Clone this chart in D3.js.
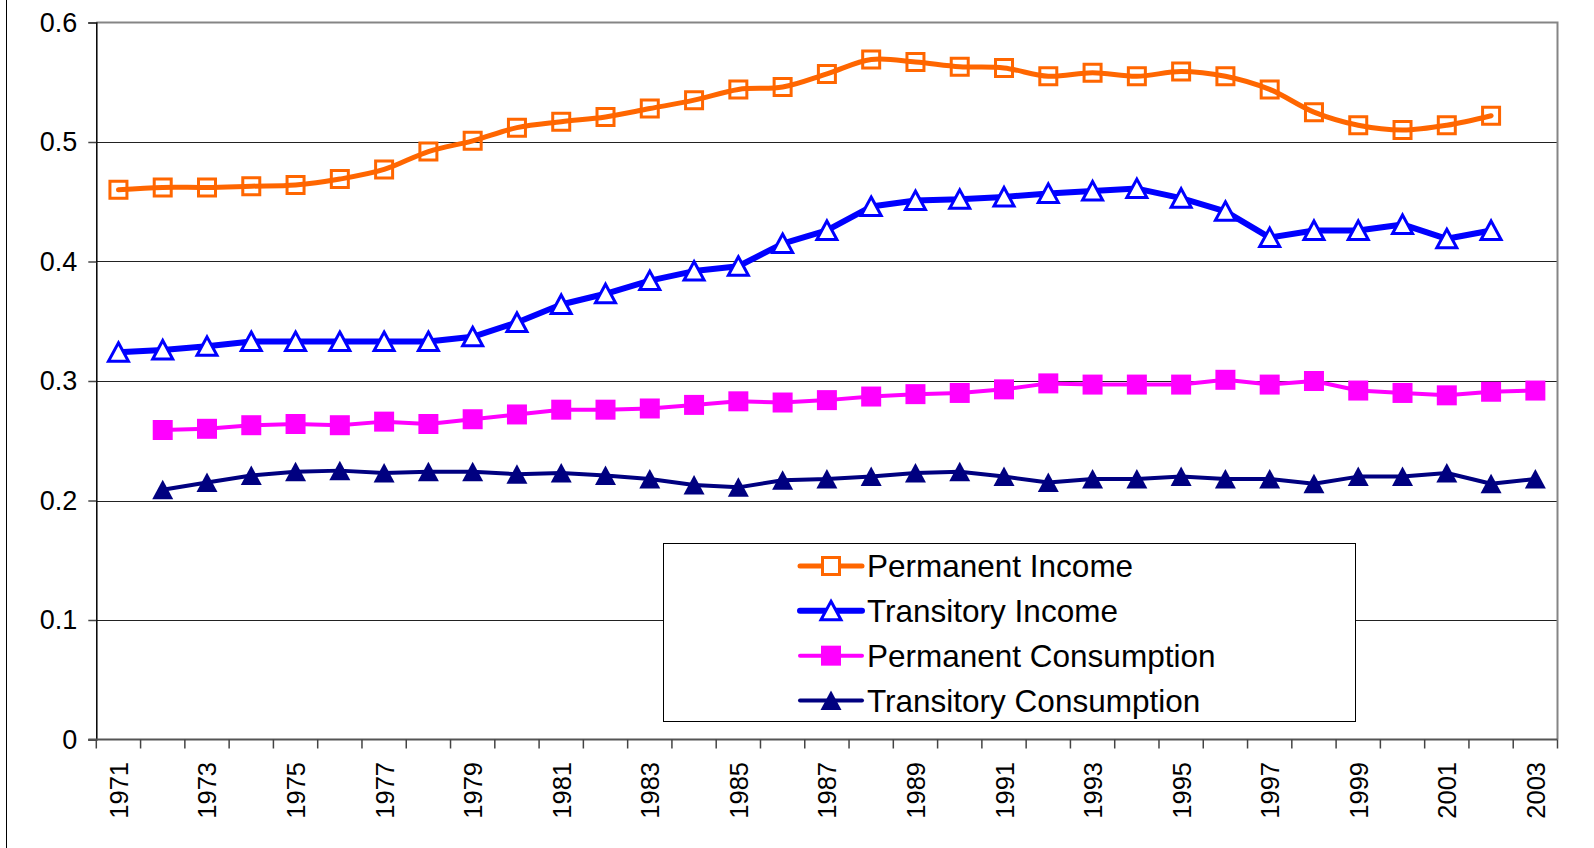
<html>
<head>
<meta charset="utf-8">
<script src="https://d3js.org/d3.v7.min.js"></script>
<style>
  body { margin: 0; background: #fff; font-family: "Liberation Sans", Arial, sans-serif; }
  svg { display: block; }
</style>
</head>
<body>
<script>
// years on the category axis
var years = d3.range(1971, 2004)
var yTicks = [0, 0.1, 0.2, 0.3, 0.4, 0.5, 0.6]

// Permanent Income, 1971-2002
var permIncome = [0.460, 0.462, 0.462, 0.463, 0.464, 0.469, 0.477, 0.492, 0.501, 0.512,
  0.517, 0.521, 0.528, 0.535, 0.544, 0.546, 0.557, 0.569, 0.567, 0.563,
  0.562, 0.555, 0.558, 0.555, 0.559, 0.555, 0.544, 0.525, 0.514, 0.510,
  0.514, 0.522]
// Transitory Income, 1971-2002
var transIncome = [0.324, 0.326, 0.329, 0.333, 0.333, 0.333, 0.333, 0.333, 0.337, 0.349,
  0.364, 0.373, 0.384, 0.392, 0.396, 0.415, 0.426, 0.446, 0.451, 0.452,
  0.454, 0.457, 0.459, 0.461, 0.453, 0.442, 0.420, 0.426, 0.426, 0.431,
  0.419, 0.426]
// Permanent Consumption, 1972-2003
var permCons = [0.259, 0.260, 0.263, 0.264, 0.263, 0.266, 0.264, 0.268, 0.272, 0.276,
  0.276, 0.277, 0.280, 0.283, 0.282, 0.284, 0.287, 0.289, 0.290, 0.293,
  0.298, 0.297, 0.297, 0.297, 0.301, 0.297, 0.300, 0.292, 0.290, 0.288,
  0.291, 0.292]
// Transitory Consumption, 1972-2003
var transCons = [0.209, 0.215, 0.221, 0.224, 0.225, 0.223, 0.224, 0.224, 0.222, 0.223,
  0.221, 0.218, 0.213, 0.211, 0.217, 0.218, 0.220, 0.223, 0.224, 0.220,
  0.215, 0.218, 0.218, 0.220, 0.218, 0.218, 0.214, 0.220, 0.220, 0.223,
  0.214, 0.218]

var seriesNames = ["Permanent Income", "Transitory Income", "Permanent Consumption", "Transitory Consumption"]

var series = [
  {name: seriesNames[0], start: 1971, values: permIncome, color: "#ff6600", width: 5, marker: "square", filled: false, smooth: true},
  {name: seriesNames[1], start: 1971, values: transIncome, color: "#0000ff", width: 6, marker: "triangle", filled: false, smooth: false},
  {name: seriesNames[2], start: 1972, values: permCons, color: "#ff00ff", width: 4, marker: "square", filled: true, smooth: false},
  {name: seriesNames[3], start: 1972, values: transCons, color: "#000080", width: 4, marker: "triangle", filled: true, smooth: false}
]

var width = 1594, height = 848
var plotLeft = 96.3, plotRight = 1557.5, plotTop = 22.5, plotBottom = 739.5

var svg = d3.select("body").append("svg")
  .attr("width", width)
  .attr("height", height)

var x = d3.scaleBand().domain(years).range([plotLeft, plotRight]).padding(0)
var y = d3.scaleLinear().domain([0, 0.6]).range([plotBottom, plotTop])
var cx = function(yr) { return x(yr) + x.bandwidth() / 2 }

// outer chart border (only left edge visible)
svg.append("line")
  .attr("x1", 6.5).attr("x2", 6.5).attr("y1", 0).attr("y2", height)
  .style("stroke", "#000").style("stroke-width", 1)

// gridlines
svg.append("g")
  .selectAll("line")
  .data(yTicks.filter(function(d){ return d > 0 && d < 0.6 }))
  .enter().append("line")
  .attr("x1", plotLeft).attr("x2", plotRight)
  .attr("y1", function(d){ return Math.round(y(d)) + 0.5 })
  .attr("y2", function(d){ return Math.round(y(d)) + 0.5 })
  .style("stroke", "#222").style("stroke-width", 1)

// plot border top/right
svg.append("path")
  .attr("d", "M" + plotLeft + "," + y(0.6) + "H" + plotRight + "V" + plotBottom)
  .style("fill", "none").style("stroke", "#858585").style("stroke-width", 2)

// y axis
var yAxis = svg.append("g")
  .attr("transform", "translate(" + plotLeft + ",0)")
  .call(d3.axisLeft(y).tickValues(yTicks).tickSize(8).tickPadding(11)
    .tickFormat(function(d){ return d === 0 ? "0" : d3.format(".1f")(d) }))
yAxis.select(".domain").style("stroke", "#000").style("stroke-width", 1.5)
yAxis.selectAll(".tick line").style("stroke", "#444").style("stroke-width", 1.5)
yAxis.selectAll("text")
  .style("font-family", "Liberation Sans, Arial, sans-serif")
  .style("font-size", "27px").style("fill", "#000")

// x axis line and ticks at category boundaries
var xg = svg.append("g")
xg.append("line")
  .attr("x1", plotLeft - 8).attr("x2", plotRight)
  .attr("y1", plotBottom).attr("y2", plotBottom)
  .style("stroke", "#555").style("stroke-width", 2)
xg.selectAll("line.tk")
  .data(years.concat([null]))
  .enter().append("line")
  .attr("class", "tk")
  .attr("x1", function(d){ return d === null ? plotRight : x(d) })
  .attr("x2", function(d){ return d === null ? plotRight : x(d) })
  .attr("y1", plotBottom).attr("y2", plotBottom + 9)
  .style("stroke", "#444").style("stroke-width", 1.5)
xg.selectAll("text")
  .data(years.filter(function(d){ return (d - 1971) % 2 === 0 }))
  .enter().append("text")
  .attr("transform", function(d){ return "translate(" + (cx(d) + 9.5) + "," + 762 + ") rotate(-90)" })
  .attr("text-anchor", "end")
  .style("font-family", "Liberation Sans, Arial, sans-serif")
  .style("font-size", "25.5px")
  .text(function(d){ return d })

function markerPath(type, filled) {
  if (type === "square") return filled ? "M-10,-10H10V10H-10Z" : "M-8.5,-8.5H8.5V8.5H-8.5Z"
  return filled ? "M0,-10L10.5,9.5L-10.5,9.5Z" : "M0,-9.5L10,9L-10,9Z"
}

// series lines
series.forEach(function(s) {
  var pts = s.values.map(function(v, i){ return {yr: s.start + i, v: v} })
  var line = d3.line()
    .x(function(d){ return cx(d.yr) })
    .y(function(d){ return y(d.v) })
    .curve(s.smooth ? d3.curveCatmullRom.alpha(0.5) : d3.curveLinear)
  svg.append("path")
    .datum(pts)
    .attr("d", line)
    .style("fill", "none")
    .style("stroke", s.color)
    .style("stroke-width", s.width)
    .style("stroke-linejoin", "round")
    .style("stroke-linecap", "round")

  svg.append("g")
    .selectAll("path")
    .data(pts)
    .enter().append("path")
    .attr("transform", function(d){ return "translate(" + cx(d.yr) + "," + y(d.v) + ")" })
    .attr("d", markerPath(s.marker, s.filled))
    .style("fill", s.filled ? s.color : (s.marker === "triangle" ? "#fff" : "none"))
    .style("stroke", s.filled ? "none" : s.color)
    .style("stroke-width", 3)
})

// legend
var lg = svg.append("g")
lg.append("rect")
  .attr("x", 663.5).attr("y", 543.5)
  .attr("width", 692).attr("height", 178)
  .style("fill", "#fff").style("stroke", "#000").style("stroke-width", 1)

var rowY = d3.scalePoint().domain(seriesNames).range([566, 700.5])
var items = lg.selectAll("g.item")
  .data(series)
  .enter().append("g")
  .attr("class", "item")
  .attr("transform", function(d){ return "translate(0," + rowY(d.name) + ")" })
items.append("line")
  .attr("x1", 800).attr("x2", 862).attr("y1", 0).attr("y2", 0)
  .style("stroke", function(d){ return d.color })
  .style("stroke-width", function(d){ return d.width })
  .style("stroke-linecap", "round")
items.append("path")
  .attr("transform", "translate(831,0)")
  .attr("d", function(d){ return markerPath(d.marker, d.filled) })
  .style("fill", function(d){ return d.filled ? d.color : "#fff" })
  .style("stroke", function(d){ return d.filled ? "none" : d.color })
  .style("stroke-width", 3)
items.append("text")
  .attr("x", 867).attr("y", 11)
  .style("font-family", "Liberation Sans, Arial, sans-serif")
  .style("font-size", "31.5px")
  .text(function(d){ return d.name })
</script>
</body>
</html>
